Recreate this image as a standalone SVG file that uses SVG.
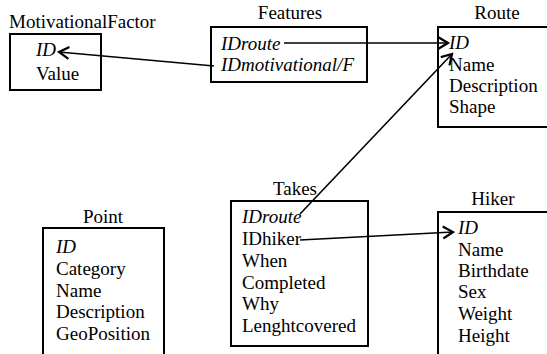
<svg xmlns="http://www.w3.org/2000/svg" width="547" height="354" viewBox="0 0 547 354">
<defs>
<style>
.i{font-style:italic}
.t{text-anchor:middle}
.box{fill:#fff;stroke:#000;stroke-width:2}
.c{stroke:#000;stroke-width:1.6;fill:none}
</style>
<marker id="ah" markerWidth="14" markerHeight="14" refX="11" refY="7" orient="auto" markerUnits="userSpaceOnUse">
<path d="M1,1 L11,7 L1,13" fill="none" stroke="#000" stroke-width="2.2"/>
</marker>
</defs>
<rect width="547" height="354" fill="#fff"/>
<g font-family="Liberation Serif, DejaVu Serif, serif" font-size="19" fill="#000">
<g id="MotivationalFactor">
<text x="9" y="28">MotivationalFactor</text>
<rect class="box" x="10" y="34" width="91" height="56"/>
<text class="i" x="36" y="56">ID</text>
<text x="36" y="80">Value</text>
</g>
<g id="Features">
<text class="t" x="290" y="19">Features</text>
<rect class="box" x="211" y="27" width="156" height="55"/>
<text class="i" x="221" y="50">IDroute</text>
<text class="i" x="221" y="71">IDmotivational/F</text>
</g>
<g id="Route">
<text class="t" x="497" y="19">Route</text>
<rect class="box" x="438" y="27" width="120" height="100"/>
<text class="i" x="449" y="49">ID</text>
<text x="449" y="71">Name</text>
<text x="449" y="92">Description</text>
<text x="449" y="113">Shape</text>
</g>
<g id="Point">
<text class="t" x="103" y="223">Point</text>
<rect class="box" x="43" y="228" width="121" height="140"/>
<text class="i" x="56" y="253">ID</text>
<text x="56" y="275">Category</text>
<text x="56" y="297">Name</text>
<text x="56" y="318">Description</text>
<text x="56" y="340">GeoPosition</text>
</g>
<g id="Takes">
<text class="t" x="295" y="195">Takes</text>
<rect class="box" x="231" y="201" width="137" height="145"/>
<text class="i" x="242" y="223">IDroute</text>
<text x="242" y="245">IDhiker</text>
<text x="242" y="267">When</text>
<text x="242" y="289">Completed</text>
<text x="242" y="310">Why</text>
<text x="242" y="332">Lenghtcovered</text>
</g>
<g id="Hiker">
<text class="t" x="493" y="205">Hiker</text>
<rect class="box" x="438" y="212" width="120" height="160"/>
<text class="i" x="458" y="234">ID</text>
<text x="458" y="256">Name</text>
<text x="458" y="277">Birthdate</text>
<text x="458" y="298">Sex</text>
<text x="458" y="320">Weight</text>
<text x="458" y="342">Height</text>
</g>
</g>
<g id="connectors">
<line class="c" x1="284" y1="43" x2="448" y2="43" marker-end="url(#ah)"/>
<line class="c" x1="214" y1="66" x2="59" y2="52" marker-end="url(#ah)"/>
<line class="c" x1="300" y1="214" x2="452" y2="54" marker-end="url(#ah)"/>
<line class="c" x1="300" y1="240" x2="453" y2="232" marker-end="url(#ah)"/>
</g>
</svg>
